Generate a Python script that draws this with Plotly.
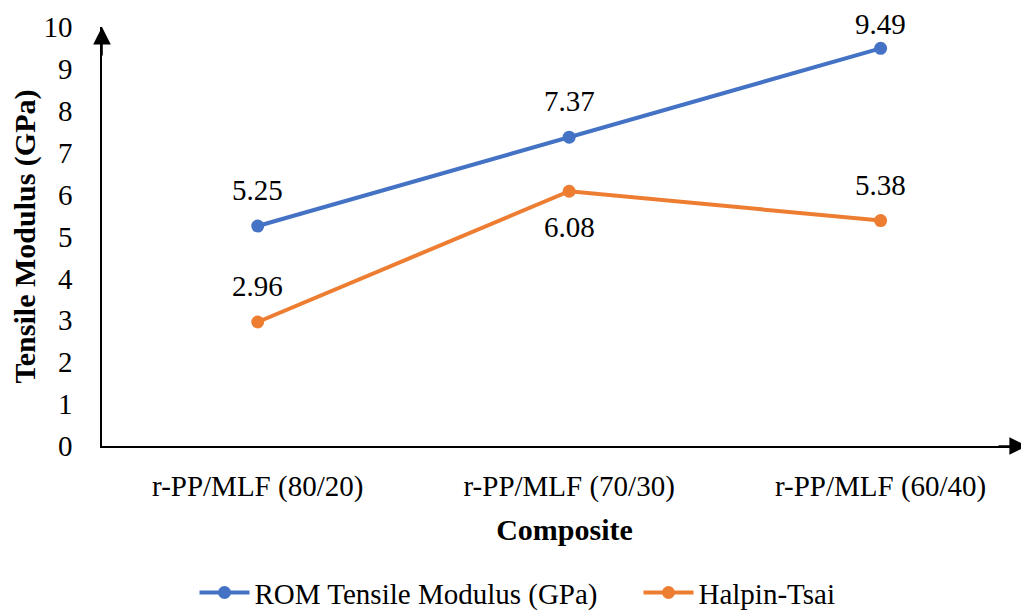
import plotly.graph_objects as go

categories = ["r-PP/MLF (80/20)", "r-PP/MLF (70/30)", "r-PP/MLF (60/40)"]
rom_values = [5.25, 7.37, 9.49]
halpin_values = [2.96, 6.08, 5.38]
y_ticks = list(range(0, 11))

# label placement (style): pixel offsets of data labels from their points
ROM_LABEL_SHIFT = [36, 36, 24]
HALPIN_LABEL_SHIFT = [36, -36, 36]

FONT = "Liberation Serif"
FS = 29
FS_TITLE = 30
BLUE = "#4472C4"
ORANGE = "#ED7D31"

fig = go.Figure()
fig.add_trace(go.Scatter(x=categories, y=rom_values, mode="lines+markers",
                         name="ROM Tensile Modulus (GPa)", legend="legend",
                         line=dict(color=BLUE, width=4),
                         marker=dict(color=BLUE, size=13)))
fig.add_trace(go.Scatter(x=categories, y=halpin_values, mode="lines+markers",
                         name="Halpin-Tsai", legend="legend2",
                         line=dict(color=ORANGE, width=4),
                         marker=dict(color=ORANGE, size=13)))

for c, v, s in zip(categories, rom_values, ROM_LABEL_SHIFT):
    fig.add_annotation(x=c, y=v, text=f"{v:.2f}", showarrow=False, yshift=s,
                       font=dict(family=FONT, size=FS, color="#000"))
for c, v, s in zip(categories, halpin_values, HALPIN_LABEL_SHIFT):
    fig.add_annotation(x=c, y=v, text=f"{v:.2f}", showarrow=False, yshift=s,
                       font=dict(family=FONT, size=FS, color="#000"))

# axis arrowheads
fig.add_annotation(x=0, y=1, xref="x domain", yref="y domain", ax=0, ay=30,
                   axref="pixel", ayref="pixel", text="", showarrow=True,
                   arrowhead=2, arrowsize=2.2, arrowwidth=1.6, arrowcolor="#000")
fig.add_annotation(x=1, y=0, xref="x domain", yref="y domain", ax=-30, ay=0,
                   axref="pixel", ayref="pixel", text="", showarrow=True,
                   arrowhead=2, arrowsize=2.2, arrowwidth=1.6, arrowcolor="#000")

legend_common = dict(orientation="h", yanchor="middle", y=-0.35, xanchor="left",
                     font=dict(family=FONT, size=FS, color="#000"), itemwidth=50,
                     bgcolor="rgba(0,0,0,0)")

fig.update_layout(
    width=1021, height=603,
    margin=dict(l=94, r=2, t=19, b=165, autoexpand=False),
    paper_bgcolor="white", plot_bgcolor="white",
    font=dict(family=FONT, size=FS, color="#000"),
    showlegend=True,
    legend=dict(x=0.1, **legend_common),
    legend2=dict(x=0.58, **legend_common),
    xaxis=dict(range=[-0.5, 2.47], showgrid=False, zeroline=False,
               showline=True, linecolor="#000", linewidth=1.6,
               ticks="", ticklabelstandoff=13, automargin=False,
               tickfont=dict(family=FONT, size=FS, color="#000"),
               title=dict(text="<b>Composite</b>", standoff=17,
                          font=dict(family=FONT, size=FS_TITLE, color="#000"))),
    yaxis=dict(range=[0, 10], tickvals=y_ticks, showgrid=False, zeroline=False,
               showline=True, linecolor="#000", linewidth=1.6,
               ticks="", ticklabelstandoff=22, automargin=False,
               tickfont=dict(family=FONT, size=FS, color="#000"),
               title=dict(text="<b>Tensile Modulus (GPa)</b>", standoff=11,
                          font=dict(family=FONT, size=FS_TITLE, color="#000"))),
)

fig.write_html("out.html")
